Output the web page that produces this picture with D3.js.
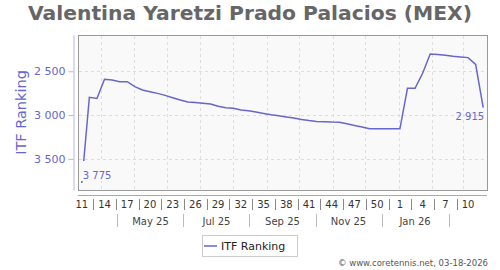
<!DOCTYPE html>
<html>
<head>
<meta charset="utf-8">
<script src="https://cdn.jsdelivr.net/npm/d3@7"></script>
<style>
  body { margin: 0; background: #fff; }
  svg { display: block; font-family: "DejaVu Sans", sans-serif; }
</style>
</head>
<body>
<div id="chart"></div>
<script>
// weekly ITF ranking, 2025 week 11 .. 2026 week 12
const weekNumbers = [11, 12, 13, 14, 15, 16, 17, 18, 19, 20, 21, 22, 23, 24, 25, 26, 27, 28, 29, 30,
  31, 32, 33, 34, 35, 36, 37, 38, 39, 40, 41, 42, 43, 44, 45, 46, 47, 48, 49, 50, 51, 52,
  1, 2, 3, 4, 5, 6, 7, 8, 9, 10, 11, 12];
const ranking = [3775, 2797, 2810, 2592, 2600, 2619, 2619, 2676, 2714, 2733, 2752, 2775, 2802, 2828,
  2851, 2857, 2866, 2874, 2900, 2916, 2923, 2943, 2951, 2966, 2981, 2997, 3008, 3021, 3034, 3051,
  3063, 3072, 3075, 3080, 3083, 3100, 3118, 3135, 3157, 3157, 3157, 3157, 3157, 2695, 2695, 2523,
  2302, 2308, 2317, 2328, 2336, 2344, 2422, 2915];
const yTicks = [2500, 3000, 3500];
const monthLabels = ["May 25", "Jul 25", "Sep 25", "Nov 25", "Jan 26"];
const monthDates = [new Date(2025, 4, 1), new Date(2025, 6, 1), new Date(2025, 8, 1), new Date(2025, 10, 1), new Date(2026, 0, 1)];
const firstWeek = new Date(2025, 2, 14);

const width = 500, height = 270;
const plot = { left: 78, right: 487, top: 35, bottom: 190 };
const lineColor = "#6666cc";

const dates = ranking.map((d, i) => d3.timeDay.offset(firstWeek, 7 * i));

const x = d3.scaleTime()
  .domain([d3.timeHour.offset(firstWeek, -84), d3.timeHour.offset(dates[dates.length - 1], 84)])
  .range([plot.left, plot.right]);

const y = d3.scaleLinear()
  .domain([2086, 3855])
  .range([plot.top, plot.bottom]);

const fmt = d3.formatLocale({ decimal: ".", thousands: " ", grouping: [3], currency: ["", ""] }).format(",d");

const svg = d3.select("#chart")
  .append("svg")
  .attr("width", width)
  .attr("height", height);

// title
svg.append("text")
  .attr("x", width / 2)
  .attr("y", 20)
  .attr("text-anchor", "middle")
  .attr("font-size", 20.3)
  .attr("font-weight", "bold")
  .attr("fill", "#666")
  .text("Valentina Yaretzi Prado Palacios (MEX)");

// plot area
svg.append("rect")
  .attr("x", plot.left + 0.5)
  .attr("y", plot.top + 0.5)
  .attr("width", plot.right - plot.left)
  .attr("height", plot.bottom - plot.top)
  .attr("fill", "#f9f9f9")
  .attr("stroke", "#999");

// grid
svg.append("g")
  .selectAll("line")
  .data(yTicks)
  .join("line")
  .attr("x1", plot.left + 1)
  .attr("x2", plot.right)
  .attr("y1", (d) => Math.round(y(d)) + 0.5)
  .attr("y2", (d) => Math.round(y(d)) + 0.5)
  .attr("stroke", "#ddd")
  .attr("stroke-dasharray", "3,3");

svg.append("g")
  .selectAll("line")
  .data(d3.timeMonth.range(x.domain()[0], x.domain()[1]))
  .join("line")
  .attr("x1", (d) => Math.round(x(d)) + 0.5)
  .attr("x2", (d) => Math.round(x(d)) + 0.5)
  .attr("y1", plot.top + 1)
  .attr("y2", plot.bottom)
  .attr("stroke", "#ddd")
  .attr("stroke-dasharray", "3,3");

// y axis
const yAxis = svg.append("g")
  .attr("transform", "translate(73.5,0)")
  .call(d3.axisLeft(y).tickValues(yTicks).tickSize(5).tickSizeOuter(0).tickPadding(3).tickFormat(fmt));
yAxis.select(".domain").attr("stroke", "#b4b4e4");
yAxis.selectAll(".tick line").attr("stroke", "#b4b4e4");
yAxis.selectAll(".tick text")
  .attr("fill", lineColor)
  .attr("font-size", 11)
  .attr("font-family", "DejaVu Sans, sans-serif");

svg.append("text")
  .attr("transform", "translate(26," + (plot.top + plot.bottom) / 2 + ") rotate(-90)")
  .attr("text-anchor", "middle")
  .attr("font-size", 14.5)
  .attr("fill", lineColor)
  .text("ITF Ranking");

// x axis line
svg.append("line")
  .attr("x1", plot.left)
  .attr("x2", plot.right)
  .attr("y1", 195.5)
  .attr("y2", 195.5)
  .attr("stroke", "#aaa");

// week labels every 3 weeks, separators in between
const weekIdx = d3.range(0, weekNumbers.length - 2, 3);
svg.append("g")
  .selectAll("text")
  .data(weekIdx)
  .join("text")
  .attr("x", (i) => x(dates[i]))
  .attr("y", 208)
  .attr("text-anchor", "middle")
  .attr("font-size", 10)
  .attr("fill", "#333")
  .text((i) => weekNumbers[i]);

svg.append("g")
  .selectAll("line")
  .data(weekIdx.slice(1))
  .join("line")
  .attr("x1", (i) => Math.round((x(dates[i]) + x(dates[i - 3])) / 2) + 0.5)
  .attr("x2", (i) => Math.round((x(dates[i]) + x(dates[i - 3])) / 2) + 0.5)
  .attr("y1", 199)
  .attr("y2", 210)
  .attr("stroke", "#888");

// month labels
const sepDates = monthDates.map((d) => d3.timeDay.offset(d3.timeMonth.offset(d, -1), 15))
  .concat([d3.timeDay.offset(d3.timeMonth.offset(monthDates[monthDates.length - 1], 1), 15)]);

svg.append("g")
  .selectAll("line")
  .data(sepDates)
  .join("line")
  .attr("x1", (d) => Math.round(x(d)) + 0.5)
  .attr("x2", (d) => Math.round(x(d)) + 0.5)
  .attr("y1", 214)
  .attr("y2", 227)
  .attr("stroke", "#bbb");

svg.append("g")
  .selectAll("text")
  .data(monthLabels)
  .join("text")
  .attr("x", (d, i) => (x(sepDates[i]) + x(sepDates[i + 1])) / 2)
  .attr("y", 225)
  .attr("text-anchor", "middle")
  .attr("font-size", 10)
  .attr("fill", "#444")
  .text((d) => d);

// ranking line
svg.append("path")
  .datum(ranking)
  .attr("fill", "none")
  .attr("stroke", lineColor)
  .attr("stroke-width", 1.5)
  .attr("d", d3.line().x((d, i) => x(dates[i])).y((d) => y(d)));

// first / last value labels
const first = svg.append("g");
first.append("rect")
  .attr("x", x(dates[0]) - 1)
  .attr("y", 161)
  .attr("width", 28)
  .attr("height", 20)
  .attr("fill", "#f9f9f9");
first.append("text")
  .attr("x", x(dates[0]) + 1)
  .attr("y", y(ranking[0]) - 4)
  .attr("font-size", 10)
  .attr("fill", lineColor)
  .text(fmt(ranking[0]));

const last = ranking.length - 1;
svg.append("text")
  .attr("x", x(dates[last]) + 1)
  .attr("y", y(ranking[last]) + 12)
  .attr("text-anchor", "end")
  .attr("font-size", 10)
  .attr("fill", lineColor)
  .text(fmt(ranking[last]));

// legend
const legend = svg.append("g").attr("transform", "translate(202,235)");
legend.append("rect")
  .attr("x", 0.5)
  .attr("y", 0.5)
  .attr("width", 95)
  .attr("height", 21)
  .attr("fill", "#fff")
  .attr("stroke", "#ccc");
legend.append("line")
  .attr("x1", 2)
  .attr("x2", 15)
  .attr("y1", 11)
  .attr("y2", 11)
  .attr("stroke", lineColor)
  .attr("stroke-width", 1.5);
legend.append("text")
  .attr("x", 19)
  .attr("y", 15)
  .attr("font-size", 11)
  .attr("fill", "#222")
  .text("ITF Ranking");

svg.append("text")
  .attr("x", 488)
  .attr("y", 266)
  .attr("text-anchor", "end")
  .attr("font-size", 8.5)
  .attr("fill", "#555")
  .text("© www.coretennis.net, 03-18-2026");
</script>
</body>
</html>
